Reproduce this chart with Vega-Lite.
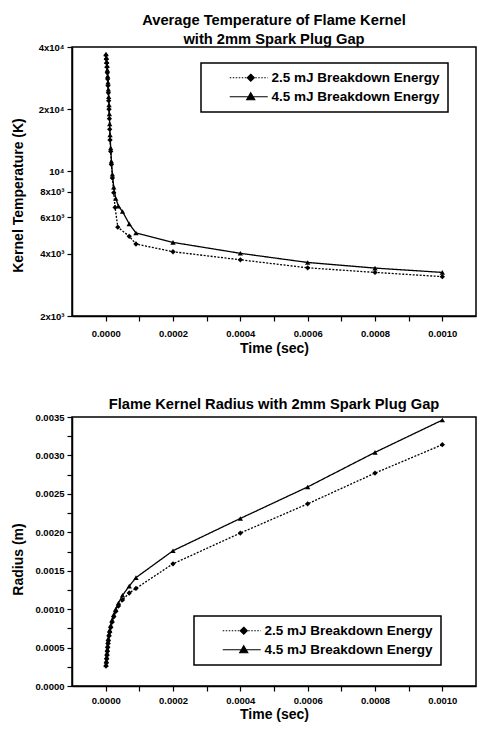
{
  "$schema": "https://vega.github.io/schema/vega-lite/v6.json",
  "background": "white",
  "padding": {"left": 10, "top": 12, "right": 5, "bottom": 5},
  "spacing": 39,
  "resolve": {"scale": {"shape": "independent", "strokeDash": "independent"}, "legend": {"shape": "independent", "strokeDash": "independent"}},
  "config": {
    "font": "Liberation Sans",
    "view": {"stroke": "black", "strokeWidth": 1.5},
    "axis": {
      "labelFont": "Liberation Sans", "labelFontSize": 9.5, "labelFontWeight": "bold", "labelColor": "black",
      "titleFont": "Liberation Sans", "titleFontSize": 14, "titleFontWeight": "bold", "titleColor": "black",
      "tickColor": "black", "tickSize": 5, "tickWidth": 1.2, "domainColor": "black", "domainWidth": 1.5,
      "grid": false, "labelPadding": 3
    },
    "title": {"font": "Liberation Sans", "fontSize": 14.7, "fontWeight": "bold", "color": "black"},
    "legend": {
      "labelFont": "Liberation Sans", "labelFontSize": 13.5, "labelFontWeight": "bold", "labelColor": "black", "labelLimit": 400,
      "strokeColor": "black", "strokeWidth": 1.5, "fillColor": "white", "padding": 8, "rowPadding": 4,
      "symbolSize": 100, "labelOffset": 49, "symbolOpacity": 1, "symbolStrokeColor": "black", "symbolFillColor": "black", "symbolStrokeWidth": 1.2
    }
  },
  "datasets": {
    "temp": [
      {"Series": "4.5 mJ Breakdown Energy", "Time": 0.000001, "Temperature": 37000},
      {"Series": "4.5 mJ Breakdown Energy", "Time": 0.000002, "Temperature": 35500},
      {"Series": "4.5 mJ Breakdown Energy", "Time": 0.000003, "Temperature": 34000},
      {"Series": "4.5 mJ Breakdown Energy", "Time": 0.000004, "Temperature": 32500},
      {"Series": "4.5 mJ Breakdown Energy", "Time": 0.000005, "Temperature": 31000},
      {"Series": "4.5 mJ Breakdown Energy", "Time": 0.000006, "Temperature": 29000},
      {"Series": "4.5 mJ Breakdown Energy", "Time": 0.000007, "Temperature": 27000},
      {"Series": "4.5 mJ Breakdown Energy", "Time": 0.000008, "Temperature": 25000},
      {"Series": "4.5 mJ Breakdown Energy", "Time": 0.000009, "Temperature": 23000},
      {"Series": "4.5 mJ Breakdown Energy", "Time": 0.00001, "Temperature": 21000},
      {"Series": "4.5 mJ Breakdown Energy", "Time": 0.000011, "Temperature": 19000},
      {"Series": "4.5 mJ Breakdown Energy", "Time": 0.000012, "Temperature": 17000},
      {"Series": "4.5 mJ Breakdown Energy", "Time": 0.000013, "Temperature": 15000},
      {"Series": "4.5 mJ Breakdown Energy", "Time": 0.000015, "Temperature": 13000},
      {"Series": "4.5 mJ Breakdown Energy", "Time": 0.000017, "Temperature": 11200},
      {"Series": "4.5 mJ Breakdown Energy", "Time": 0.00002, "Temperature": 9700},
      {"Series": "4.5 mJ Breakdown Energy", "Time": 0.000024, "Temperature": 8400},
      {"Series": "4.5 mJ Breakdown Energy", "Time": 0.00003, "Temperature": 7400},
      {"Series": "4.5 mJ Breakdown Energy", "Time": 0.000038, "Temperature": 6800},
      {"Series": "4.5 mJ Breakdown Energy", "Time": 0.00005, "Temperature": 6400},
      {"Series": "4.5 mJ Breakdown Energy", "Time": 0.00007, "Temperature": 5580},
      {"Series": "4.5 mJ Breakdown Energy", "Time": 0.00009, "Temperature": 5040},
      {"Series": "4.5 mJ Breakdown Energy", "Time": 0.0002, "Temperature": 4540},
      {"Series": "4.5 mJ Breakdown Energy", "Time": 0.0004, "Temperature": 4020},
      {"Series": "4.5 mJ Breakdown Energy", "Time": 0.0006, "Temperature": 3630},
      {"Series": "4.5 mJ Breakdown Energy", "Time": 0.0008, "Temperature": 3410},
      {"Series": "4.5 mJ Breakdown Energy", "Time": 0.001, "Temperature": 3250},
      {"Series": "2.5 mJ Breakdown Energy", "Time": 0.000001, "Temperature": 36500},
      {"Series": "2.5 mJ Breakdown Energy", "Time": 0.000002, "Temperature": 35000},
      {"Series": "2.5 mJ Breakdown Energy", "Time": 0.000003, "Temperature": 33500},
      {"Series": "2.5 mJ Breakdown Energy", "Time": 0.000004, "Temperature": 32000},
      {"Series": "2.5 mJ Breakdown Energy", "Time": 0.000005, "Temperature": 30000},
      {"Series": "2.5 mJ Breakdown Energy", "Time": 0.000006, "Temperature": 28000},
      {"Series": "2.5 mJ Breakdown Energy", "Time": 0.000007, "Temperature": 26000},
      {"Series": "2.5 mJ Breakdown Energy", "Time": 0.000008, "Temperature": 24000},
      {"Series": "2.5 mJ Breakdown Energy", "Time": 0.000009, "Temperature": 22000},
      {"Series": "2.5 mJ Breakdown Energy", "Time": 0.00001, "Temperature": 20000},
      {"Series": "2.5 mJ Breakdown Energy", "Time": 0.000011, "Temperature": 18000},
      {"Series": "2.5 mJ Breakdown Energy", "Time": 0.000012, "Temperature": 16000},
      {"Series": "2.5 mJ Breakdown Energy", "Time": 0.000013, "Temperature": 14200},
      {"Series": "2.5 mJ Breakdown Energy", "Time": 0.000015, "Temperature": 12500},
      {"Series": "2.5 mJ Breakdown Energy", "Time": 0.000017, "Temperature": 10800},
      {"Series": "2.5 mJ Breakdown Energy", "Time": 0.00002, "Temperature": 9300},
      {"Series": "2.5 mJ Breakdown Energy", "Time": 0.000024, "Temperature": 7900},
      {"Series": "2.5 mJ Breakdown Energy", "Time": 0.000028, "Temperature": 6700},
      {"Series": "2.5 mJ Breakdown Energy", "Time": 0.000036, "Temperature": 5380},
      {"Series": "2.5 mJ Breakdown Energy", "Time": 0.00007, "Temperature": 4860},
      {"Series": "2.5 mJ Breakdown Energy", "Time": 0.00009, "Temperature": 4460},
      {"Series": "2.5 mJ Breakdown Energy", "Time": 0.0002, "Temperature": 4090},
      {"Series": "2.5 mJ Breakdown Energy", "Time": 0.0004, "Temperature": 3740},
      {"Series": "2.5 mJ Breakdown Energy", "Time": 0.0006, "Temperature": 3420},
      {"Series": "2.5 mJ Breakdown Energy", "Time": 0.0008, "Temperature": 3250},
      {"Series": "2.5 mJ Breakdown Energy", "Time": 0.001, "Temperature": 3100}
    ],
    "radius": [
      {"Series": "4.5 mJ Breakdown Energy", "Time": 0.000001, "Radius": 0.00028},
      {"Series": "4.5 mJ Breakdown Energy", "Time": 0.000002, "Radius": 0.00033},
      {"Series": "4.5 mJ Breakdown Energy", "Time": 0.000003, "Radius": 0.00038},
      {"Series": "4.5 mJ Breakdown Energy", "Time": 0.000004, "Radius": 0.00043},
      {"Series": "4.5 mJ Breakdown Energy", "Time": 0.000005, "Radius": 0.00048},
      {"Series": "4.5 mJ Breakdown Energy", "Time": 0.000006, "Radius": 0.00053},
      {"Series": "4.5 mJ Breakdown Energy", "Time": 0.000007, "Radius": 0.00058},
      {"Series": "4.5 mJ Breakdown Energy", "Time": 0.000008, "Radius": 0.00062},
      {"Series": "4.5 mJ Breakdown Energy", "Time": 0.00001, "Radius": 0.00068},
      {"Series": "4.5 mJ Breakdown Energy", "Time": 0.000012, "Radius": 0.00073},
      {"Series": "4.5 mJ Breakdown Energy", "Time": 0.000015, "Radius": 0.00079},
      {"Series": "4.5 mJ Breakdown Energy", "Time": 0.000019, "Radius": 0.00086},
      {"Series": "4.5 mJ Breakdown Energy", "Time": 0.000024, "Radius": 0.00093},
      {"Series": "4.5 mJ Breakdown Energy", "Time": 0.00003, "Radius": 0.001},
      {"Series": "4.5 mJ Breakdown Energy", "Time": 0.000038, "Radius": 0.00108},
      {"Series": "4.5 mJ Breakdown Energy", "Time": 0.00005, "Radius": 0.00118},
      {"Series": "4.5 mJ Breakdown Energy", "Time": 0.00007, "Radius": 0.0013},
      {"Series": "4.5 mJ Breakdown Energy", "Time": 0.00009, "Radius": 0.00141},
      {"Series": "4.5 mJ Breakdown Energy", "Time": 0.0002, "Radius": 0.00176},
      {"Series": "4.5 mJ Breakdown Energy", "Time": 0.0004, "Radius": 0.00218},
      {"Series": "4.5 mJ Breakdown Energy", "Time": 0.0006, "Radius": 0.00259},
      {"Series": "4.5 mJ Breakdown Energy", "Time": 0.0008, "Radius": 0.00304},
      {"Series": "4.5 mJ Breakdown Energy", "Time": 0.001, "Radius": 0.00346},
      {"Series": "2.5 mJ Breakdown Energy", "Time": 0.000001, "Radius": 0.00026},
      {"Series": "2.5 mJ Breakdown Energy", "Time": 0.000002, "Radius": 0.0003},
      {"Series": "2.5 mJ Breakdown Energy", "Time": 0.000003, "Radius": 0.00035},
      {"Series": "2.5 mJ Breakdown Energy", "Time": 0.000004, "Radius": 0.0004},
      {"Series": "2.5 mJ Breakdown Energy", "Time": 0.000005, "Radius": 0.00045},
      {"Series": "2.5 mJ Breakdown Energy", "Time": 0.000006, "Radius": 0.0005},
      {"Series": "2.5 mJ Breakdown Energy", "Time": 0.000007, "Radius": 0.00055},
      {"Series": "2.5 mJ Breakdown Energy", "Time": 0.000008, "Radius": 0.00059},
      {"Series": "2.5 mJ Breakdown Energy", "Time": 0.00001, "Radius": 0.00065},
      {"Series": "2.5 mJ Breakdown Energy", "Time": 0.000012, "Radius": 0.0007},
      {"Series": "2.5 mJ Breakdown Energy", "Time": 0.000015, "Radius": 0.00076},
      {"Series": "2.5 mJ Breakdown Energy", "Time": 0.000019, "Radius": 0.00083},
      {"Series": "2.5 mJ Breakdown Energy", "Time": 0.000024, "Radius": 0.0009},
      {"Series": "2.5 mJ Breakdown Energy", "Time": 0.00003, "Radius": 0.00097},
      {"Series": "2.5 mJ Breakdown Energy", "Time": 0.000038, "Radius": 0.00104},
      {"Series": "2.5 mJ Breakdown Energy", "Time": 0.00005, "Radius": 0.00112},
      {"Series": "2.5 mJ Breakdown Energy", "Time": 0.00007, "Radius": 0.00121},
      {"Series": "2.5 mJ Breakdown Energy", "Time": 0.00009, "Radius": 0.00127},
      {"Series": "2.5 mJ Breakdown Energy", "Time": 0.0002, "Radius": 0.00159},
      {"Series": "2.5 mJ Breakdown Energy", "Time": 0.0004, "Radius": 0.00199},
      {"Series": "2.5 mJ Breakdown Energy", "Time": 0.0006, "Radius": 0.00237},
      {"Series": "2.5 mJ Breakdown Energy", "Time": 0.0008, "Radius": 0.00277},
      {"Series": "2.5 mJ Breakdown Energy", "Time": 0.001, "Radius": 0.00314}
    ]
  },
  "vconcat": [
    {
      "width": 404,
      "height": 269,
      "title": {"text": ["Average Temperature of Flame Kernel", "with 2mm Spark Plug Gap"], "lineHeight": 19, "offset": -5, "anchor": "middle"},
      "data": {"name": "temp"},
      "resolve": {"scale": {"shape": "independent"}, "legend": {"shape": "independent"}},
      "encoding": {
        "x": {
          "field": "Time", "type": "quantitative",
          "scale": {"domain": [-0.0001, 0.0011], "nice": false, "zero": false},
          "axis": {
            "title": "Time (sec)", "titlePadding": 4, "labelPadding": 7,
            "values": [0, 0.0001, 0.0002, 0.0003, 0.0004, 0.0005, 0.0006, 0.0007, 0.0008, 0.0009, 0.001],
            "labelExpr": "round(datum.value * 10000) % 2 == 0 ? format(datum.value, '.4f') : ''"
          }
        },
        "y": {
          "field": "Temperature", "type": "quantitative",
          "scale": {"type": "log", "domain": [2000, 40000], "nice": false},
          "axis": {
            "title": "Kernel Temperature (K)", "titlePadding": 7, "minExtent": 40, "maxExtent": 40, "titleY": 148,
            "values": [2000, 4000, 6000, 8000, 10000, 20000, 40000],
            "labelExpr": "datum.value == 40000 ? '4x10⁴' : datum.value == 20000 ? '2x10⁴' : datum.value == 10000 ? '10⁴' : datum.value == 8000 ? '8x10³' : datum.value == 6000 ? '6x10³' : datum.value == 4000 ? '4x10³' : '2x10³'"
          }
        }
      },
      "layer": [
        {
          "mark": {"type": "line", "color": "black", "strokeWidth": 1.3},
          "encoding": {
            "strokeDash": {"field": "Series", "type": "nominal", "scale": {"range": [[2, 1.5], [1, 0]]}, "legend": null}
          }
        },
        {
          "mark": {"type": "point", "filled": true, "color": "black", "size": 28, "opacity": 1},
          "encoding": {
            "shape": {
              "field": "Series", "type": "nominal", "legend": null,
              "scale": {"domain": ["2.5 mJ Breakdown Energy", "4.5 mJ Breakdown Energy"], "range": ["diamond", "triangle-up"]}
            }
          }
        },
        {
          "transform": [{"filter": "false"}],
          "mark": {"type": "point", "filled": true, "color": "black", "stroke": "black", "strokeWidth": 1.2, "opacity": 1},
          "encoding": {
            "shape": {
              "field": "Series", "type": "nominal",
              "scale": {"domain": ["2.5 mJ Breakdown Energy", "4.5 mJ Breakdown Energy"], "range": ["M2.8,0L3.1,0M3.4,0L3.7,0M4,0L4.3,0M4.6,0L4.9,0M5.2,0L5.5,0M5.8,0L6.1,0M7.9,0L8.2,0M8.5,0L8.8,0M9.1,0L9.4,0M9.7,0L10,0M10.3,0L10.4,0M7,-0.7L7.7,0L7,0.7L6.3,0Z", "M2.8,0L10.4,0M7,-0.8L7.8,0.6L6.2,0.6Z"]},
              "legend": {
                "title": null, "orient": "none", "legendX": 129, "legendY": 16,
                "labelExpr": "datum.label + '\u00a0\u00a0\u00a0\u00a0\u00a0\u00a0\u00a0'",
                "encoding": {"symbols": {"stroke": {"value": "black"}, "strokeWidth": {"value": 1.2}, "fill": {"value": "black"}}}
              }
            }
          }
        }
      ]
    },
    {
      "width": 404,
      "height": 269,
      "title": {"text": "Flame Kernel Radius with 2mm Spark Plug Gap", "offset": 0, "anchor": "middle"},
      "data": {"name": "radius"},
      "resolve": {"scale": {"shape": "independent"}, "legend": {"shape": "independent"}},
      "encoding": {
        "x": {
          "field": "Time", "type": "quantitative",
          "scale": {"domain": [-0.0001, 0.0011], "nice": false, "zero": false},
          "axis": {
            "title": "Time (sec)", "titlePadding": 3, "labelPadding": 4,
            "values": [0, 0.0001, 0.0002, 0.0003, 0.0004, 0.0005, 0.0006, 0.0007, 0.0008, 0.0009, 0.001],
            "labelExpr": "round(datum.value * 10000) % 2 == 0 ? format(datum.value, '.4f') : ''"
          }
        },
        "y": {
          "field": "Radius", "type": "quantitative",
          "scale": {"domain": [0, 0.0035], "nice": false},
          "axis": {
            "title": "Radius (m)", "titlePadding": 7, "minExtent": 40, "maxExtent": 40, "titleY": 142,
            "values": [0, 0.00025, 0.0005, 0.00075, 0.001, 0.00125, 0.0015, 0.00175, 0.002, 0.00225, 0.0025, 0.00275, 0.003, 0.00325, 0.0035],
            "labelExpr": "round(datum.value * 100000) % 50 == 0 ? format(datum.value, '.4f') : ''"
          }
        }
      },
      "layer": [
        {
          "mark": {"type": "line", "color": "black", "strokeWidth": 1.3},
          "encoding": {
            "strokeDash": {"field": "Series", "type": "nominal", "scale": {"range": [[2, 1.5], [1, 0]]}, "legend": null}
          }
        },
        {
          "mark": {"type": "point", "filled": true, "color": "black", "size": 28, "opacity": 1},
          "encoding": {
            "shape": {
              "field": "Series", "type": "nominal", "legend": null,
              "scale": {"domain": ["2.5 mJ Breakdown Energy", "4.5 mJ Breakdown Energy"], "range": ["diamond", "triangle-up"]}
            }
          }
        },
        {
          "transform": [{"filter": "false"}],
          "mark": {"type": "point", "filled": true, "color": "black", "stroke": "black", "strokeWidth": 1.2, "opacity": 1},
          "encoding": {
            "shape": {
              "field": "Series", "type": "nominal",
              "scale": {"domain": ["2.5 mJ Breakdown Energy", "4.5 mJ Breakdown Energy"], "range": ["M2.8,0L3.1,0M3.4,0L3.7,0M4,0L4.3,0M4.6,0L4.9,0M5.2,0L5.5,0M5.8,0L6.1,0M7.9,0L8.2,0M8.5,0L8.8,0M9.1,0L9.4,0M9.7,0L10,0M10.3,0L10.4,0M7,-0.7L7.7,0L7,0.7L6.3,0Z", "M2.8,0L10.4,0M7,-0.8L7.8,0.6L6.2,0.6Z"]},
              "legend": {
                "title": null, "orient": "none", "legendX": 122, "legendY": 199,
                "labelExpr": "datum.label + '\u00a0\u00a0\u00a0\u00a0\u00a0\u00a0\u00a0\u00a0\u00a0'",
                "encoding": {"symbols": {"stroke": {"value": "black"}, "strokeWidth": {"value": 1.2}, "fill": {"value": "black"}}}
              }
            }
          }
        }
      ]
    }
  ]
}
